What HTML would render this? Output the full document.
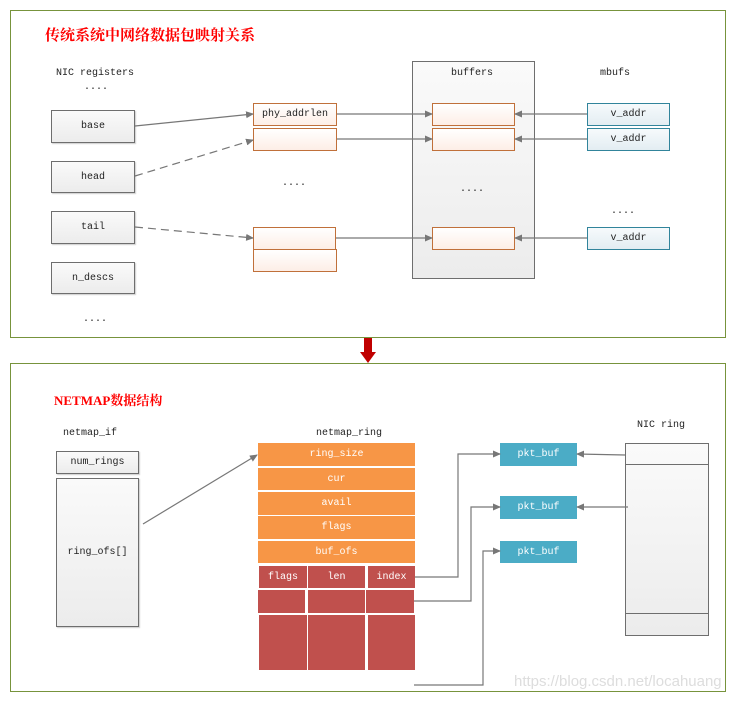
<!DOCTYPE html>
<html><head><meta charset="utf-8"><style>
body{margin:0;width:742px;height:701px;background:#fff;position:relative;overflow:hidden;font-family:"Liberation Mono","Noto Sans CJK SC",monospace;font-size:10px;color:#222}
div{position:absolute;box-sizing:border-box}
.t{white-space:nowrap;text-align:center}
.g{border:1px solid #6e6e6e;background:linear-gradient(#fafafa,#ececec);display:flex;align-items:center;justify-content:center;box-shadow:1px 1px 1px #ccc}
.o{border:1px solid #c0703a;background:linear-gradient(#fff,#fdeee6);display:flex;align-items:center;justify-content:center}
.b{border:1px solid #31849b;background:linear-gradient(#f6fafc,#e3edf2);display:flex;align-items:center;justify-content:center}
.or{background:#f79646;color:#fff;display:flex;align-items:center;justify-content:center}
.rd{background:#c0504d;color:#fff;display:flex;align-items:center;justify-content:center}
.pk{background:#4bacc6;color:#fff;display:flex;align-items:center;justify-content:center}
.frame{border:1px solid #77933c}
.title{color:#f00;font-weight:bold;font-family:"Liberation Serif","Noto Serif CJK SC",serif;white-space:nowrap}
</style></head><body>
<div class="frame" style="left:10px;top:10px;width:716px;height:328px"></div>
<div class="frame" style="left:10px;top:363px;width:716px;height:329px"></div>
<div class="title" style="left:45px;top:24px;font-size:15px">传统系统中网络数据包映射关系</div>
<div class="t" style="left:56px;top:68px">NIC registers</div>
<div class="t" style="left:84px;top:82px">....</div>
<div class="g" style="left:51px;top:110px;width:84px;height:33px">base</div>
<div class="g" style="left:51px;top:161px;width:84px;height:32px">head</div>
<div class="g" style="left:51px;top:211px;width:84px;height:33px">tail</div>
<div class="g" style="left:51px;top:262px;width:84px;height:32px">n_descs</div>
<div class="t" style="left:83px;top:314px">....</div>
<div class="o" style="left:253px;top:103px;width:84px;height:23px">phy_addrlen</div>
<div class="o" style="left:253px;top:128px;width:84px;height:23px"></div>
<div class="t" style="left:282px;top:178px">....</div>
<div class="o" style="left:253px;top:227px;width:83px;height:23px"></div>
<div class="o" style="left:253px;top:249px;width:84px;height:23px"></div>
<div class="g" style="left:412px;top:61px;width:123px;height:218px;box-shadow:none"></div>
<div class="t" style="left:451px;top:68px">buffers</div>
<div class="o" style="left:432px;top:103px;width:83px;height:23px"></div>
<div class="o" style="left:432px;top:128px;width:83px;height:23px"></div>
<div class="t" style="left:460px;top:184px">....</div>
<div class="o" style="left:432px;top:227px;width:83px;height:23px"></div>
<div class="t" style="left:600px;top:68px">mbufs</div>
<div class="b" style="left:587px;top:103px;width:83px;height:23px">v_addr</div>
<div class="b" style="left:587px;top:128px;width:83px;height:23px">v_addr</div>
<div class="t" style="left:611px;top:206px">....</div>
<div class="b" style="left:587px;top:227px;width:83px;height:23px">v_addr</div>

<div class="title" style="left:54px;top:390px;font-size:13px">NETMAP数据结构</div>
<div class="t" style="left:63px;top:428px">netmap_if</div>
<div class="g" style="left:56px;top:451px;width:83px;height:23px">num_rings</div>
<div class="g" style="left:56px;top:478px;width:83px;height:149px">ring_ofs[]</div>
<div class="t" style="left:316px;top:428px">netmap_ring</div>
<div class="or" style="left:258px;top:443px;width:157px;height:23px">ring_size</div>
<div class="or" style="left:258px;top:468px;width:157px;height:22px">cur</div>
<div class="or" style="left:258px;top:492px;width:157px;height:23px">avail</div>
<div class="or" style="left:258px;top:516px;width:157px;height:23px">flags</div>
<div class="or" style="left:258px;top:541px;width:157px;height:22px">buf_ofs</div>
<div class="rd" style="left:259px;top:566px;width:48px;height:22px">flags</div>
<div class="rd" style="left:308px;top:566px;width:57px;height:22px">len</div>
<div class="rd" style="left:368px;top:566px;width:47px;height:22px">index</div>
<div class="rd" style="left:258px;top:590px;width:47px;height:23px"></div>
<div class="rd" style="left:308px;top:590px;width:57px;height:23px"></div>
<div class="rd" style="left:366px;top:590px;width:48px;height:23px"></div>
<div class="rd" style="left:259px;top:615px;width:48px;height:55px"></div>
<div class="rd" style="left:308px;top:615px;width:57px;height:55px"></div>
<div class="rd" style="left:368px;top:615px;width:47px;height:55px"></div>
<div class="pk" style="left:500px;top:443px;width:77px;height:23px">pkt_buf</div>
<div class="pk" style="left:500px;top:496px;width:77px;height:23px">pkt_buf</div>
<div class="pk" style="left:500px;top:541px;width:77px;height:22px">pkt_buf</div>
<div class="t" style="left:637px;top:420px">NIC ring</div>
<div class="g" style="left:625px;top:443px;width:84px;height:193px;box-shadow:none"></div>
<div style="left:625px;top:464px;width:84px;height:1px;background:#6e6e6e"></div>
<div style="left:625px;top:613px;width:84px;height:1px;background:#6e6e6e"></div>
<div class="t" style="left:514px;top:673px;font-family:'Liberation Sans',sans-serif;font-size:15px;color:#ddd">https://blog.csdn.net/locahuang</div>

<svg width="742" height="701" style="position:absolute;left:0;top:0">
<defs><marker id="a" markerWidth="8" markerHeight="8" refX="7" refY="4" orient="auto" markerUnits="userSpaceOnUse"><path d="M0,0.5 L8,4 L0,7.5 Z" fill="#777"/></marker></defs>
<g stroke="#777" stroke-width="1.2" fill="none" marker-end="url(#a)">
<line x1="135" y1="126" x2="253" y2="114"/>
<line x1="135" y1="176" x2="253" y2="140" stroke-dasharray="8,5"/>
<line x1="135" y1="227" x2="253" y2="238" stroke-dasharray="8,5"/>
<line x1="337" y1="114" x2="432" y2="114"/>
<line x1="337" y1="139" x2="432" y2="139"/>
<line x1="336" y1="238" x2="432" y2="238"/>
<line x1="587" y1="114" x2="515" y2="114"/>
<line x1="587" y1="139" x2="515" y2="139"/>
<line x1="587" y1="238" x2="515" y2="238"/>
<line x1="143" y1="524" x2="257" y2="455"/>
<polyline points="415,577 458,577 458,454 500,454"/>
<polyline points="414,601 471,601 471,507 500,507"/>
<polyline points="414,685 483,685 483,551 500,551"/>
<line x1="625" y1="455" x2="577" y2="454"/>
<line x1="628" y1="507" x2="577" y2="507"/>
</g>
<rect x="364" y="338" width="8" height="15" fill="#c00000"/>
<path d="M360,352 L376,352 L368,363 Z" fill="#c00000"/>
</svg>
</body></html>
